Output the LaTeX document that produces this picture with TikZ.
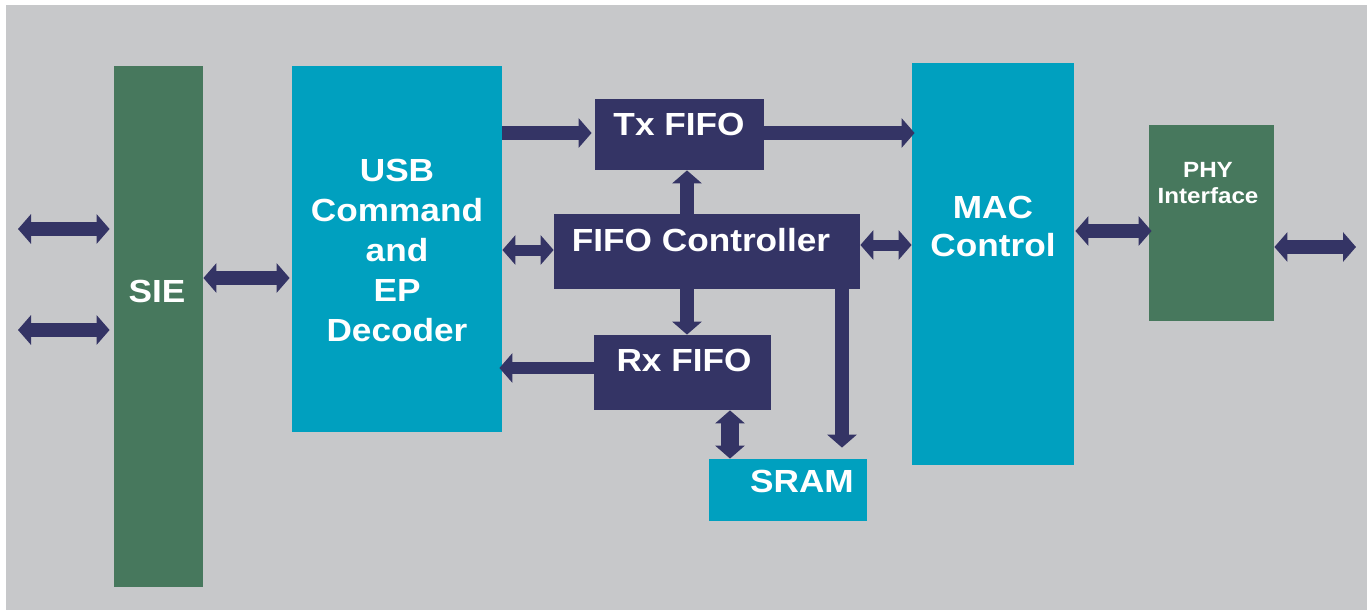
\documentclass[tikz,border=0pt]{standalone}
\usepackage{fontspec}
\setmainfont{Liberation Sans}[FakeStretch=1.1]
\usepackage{tikz}
\usetikzlibrary{arrows.meta}
\usepackage{color}

\definecolor{bggray}{HTML}{C7C8CA}
\definecolor{siegreen}{HTML}{47785D}
\definecolor{usbteal}{HTML}{00A0BF}
\definecolor{fifonavy}{HTML}{343465}

\tikzset{
  block/.style={rectangle, inner sep=0pt, draw=none},
  lbl/.style={text=white, inner sep=0pt, align=center,
    font=\bfseries\fontsize{16}{20}\selectfont},
  flow/.style={draw=fifonavy, line width=7pt,
    -{Triangle[width=14.5pt,length=6.5pt]}},
  bflow/.style={draw=fifonavy, line width=7pt,
    {Triangle[width=14.5pt,length=6.5pt]}-{Triangle[width=14.5pt,length=6.5pt]}},
}

\begin{document}
\begin{tikzpicture}[x=0.5pt,y=-0.5pt]
      % canvas
      \useasboundingbox (0,0) rectangle (1372,610);
      \fill[bggray] (6,5) rectangle (1367,610);

      % blocks
      \node[block, fill=siegreen, minimum width=44.5pt, minimum height=260.5pt] (sie) at (158.5,326.5) {};
      \node[block, fill=usbteal, minimum width=105pt, minimum height=183pt] (usb) at (397,249) {};
      \node[block, fill=fifonavy, minimum width=84.5pt, minimum height=35.5pt] (tx) at (679.5,134.5) {};
      \node[block, fill=fifonavy, minimum width=153pt, minimum height=37.5pt] (fifo) at (707,251.5) {};
      \node[block, fill=fifonavy, minimum width=88.5pt, minimum height=37.5pt] (rx) at (682.5,372.5) {};
      \node[block, fill=usbteal, minimum width=79pt, minimum height=31pt] (sram) at (788,490) {};
      \node[block, fill=usbteal, minimum width=81pt, minimum height=201pt] (mac) at (993,264) {};
      \node[block, fill=siegreen, minimum width=62.5pt, minimum height=98pt] (phy) at (1211.5,223) {};

      % free ends
      \coordinate (usbin1) at (18,229);
      \coordinate (usbin2) at (18,330);
      \coordinate (phyout) at (1356,247);

      % connectors
      \draw[bflow, shorten >=2pt] (usbin1) -- (usbin1 -| sie.west);
      \draw[bflow, shorten >=2pt] (usbin2) -- (usbin2 -| sie.west);
      \draw[bflow, shorten >=1pt] (sie.east |- 0,278) -- (usb.west |- 0,278);
      \draw[flow, shorten >=1.5pt] (usb.east |- 0,133) -- (tx.west |- 0,133);
      \draw[flow, shorten >=-1.5pt] (tx.east |- 0,133) -- (mac.west |- 0,133);
      \draw[flow] (fifo.north -| 687,0) -- (tx.south -| 687,0);
      \draw[bflow, line width=5.5pt] (usb.east |- 0,250) -- (fifo.west |- 0,250);
      \draw[bflow, line width=5.5pt] (fifo.east |- 0,245) -- (mac.west |- 0,245);
      \draw[flow] (fifo.south -| 687,0) -- (rx.north -| 687,0);
      \draw[flow, line width=6pt, shorten >=-1.5pt] (rx.west |- 0,368) -- (usb.east |- 0,368);
      \draw[bflow, line width=9pt] (rx.south -| 730,0) -- (sram.north -| 730,0);
      \draw[flow, shorten >=5.5pt] (fifo.south -| 842,0) -- (sram.north -| 842,0);
      \draw[bflow, shorten <=0.5pt, shorten >=-1.5pt] (mac.east |- 0,231) -- (phy.west |- 0,231);
      \draw[bflow] (phy.east |- phyout) -- (phyout);

      % labels
      \node[lbl] (sielabel) at (157,291) {SIE};
      \node[lbl] (usblabel) at (397,250) {USB\\Command\\and\\EP\\Decoder};
      \node[lbl] (txlabel) at (679,124) {Tx FIFO};
      \node[lbl] (fifolabel) at (701,240) {FIFO Controller};
      \node[lbl] (rxlabel) at (684,360) {Rx FIFO};
      \node[lbl] (sramlabel) at (802,481) {SRAM};
      \node[lbl, font=\bfseries\fontsize{16}{19}\selectfont] (maclabel) at (993,226) {MAC\\Control};
      \node[lbl, font=\bfseries\fontsize{11}{13}\selectfont] (phylabel) at (1208,183) {PHY\\Interface};
\end{tikzpicture}
\end{document}
